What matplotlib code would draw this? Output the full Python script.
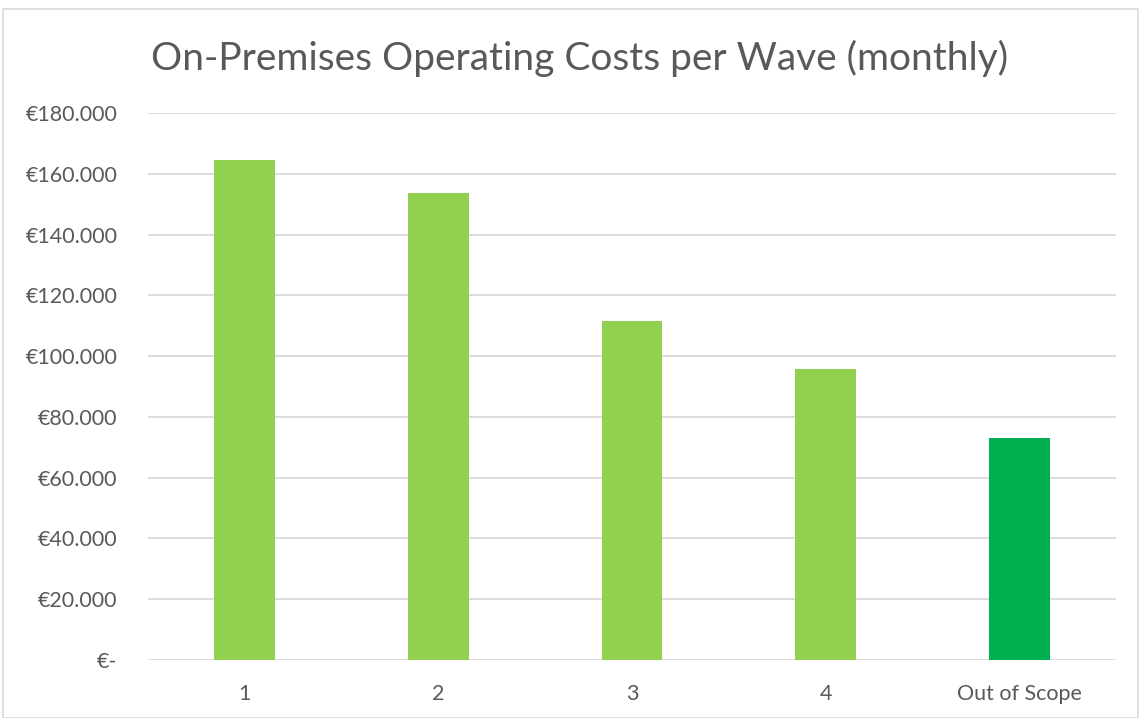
import matplotlib.pyplot as plt
from matplotlib.patches import Rectangle

categories = ["1", "2", "3", "4", "Out of Scope"]
costs = [164500, 153600, 111500, 95800, 73100]
bar_colors = ["#92D050", "#92D050", "#92D050", "#92D050", "#00B050"]
y_ticks = [0, 20000, 40000, 60000, 80000, 100000, 120000, 140000, 160000, 180000]


def euro(v):
    if v == 0:
        return "€-"
    return "€" + "{:,.0f}".format(v).replace(",", ".")


plt.rcParams["font.family"] = ["Lato", "DejaVu Sans"]

fig = plt.figure(figsize=(11.39, 7.18), dpi=100)
ax = fig.add_axes([148 / 1139, 1 - 660 / 718, (1116 - 148) / 1139, (660 - 113) / 718])

x = range(len(categories))
ax.bar(x, costs, width=0.315, color=bar_colors, zorder=3)

ax.set_xlim(-0.5, len(categories) - 0.5)
ax.set_ylim(0, 180000)
ax.set_yticks(y_ticks)
ax.set_yticklabels([euro(v) for v in y_ticks])
ax.set_xticks(list(x))
ax.set_xticklabels(categories)

ax.grid(axis="y", color="#D9D9D9", linewidth=1.3, zorder=0)
for s in ax.spines.values():
    s.set_visible(False)
ax.tick_params(axis="both", length=0, colors="#595959", labelsize=15.5)
ax.tick_params(axis="y", pad=22)
ax.tick_params(axis="x", pad=17)

fig.text(580 / 1139, 1 - 58 / 718, "On-Premises Operating Costs per Wave (monthly)",
         ha="center", va="center", fontsize=28, color="#595959")

# chart border
fig.patches.append(Rectangle((3 / 1139, 0), 1 - 4 / 1139, 1 - 9 / 718,
                             transform=fig.transFigure, fill=False,
                             edgecolor="#D9D9D9", linewidth=1.2))

fig.savefig("out.png", dpi=100)
